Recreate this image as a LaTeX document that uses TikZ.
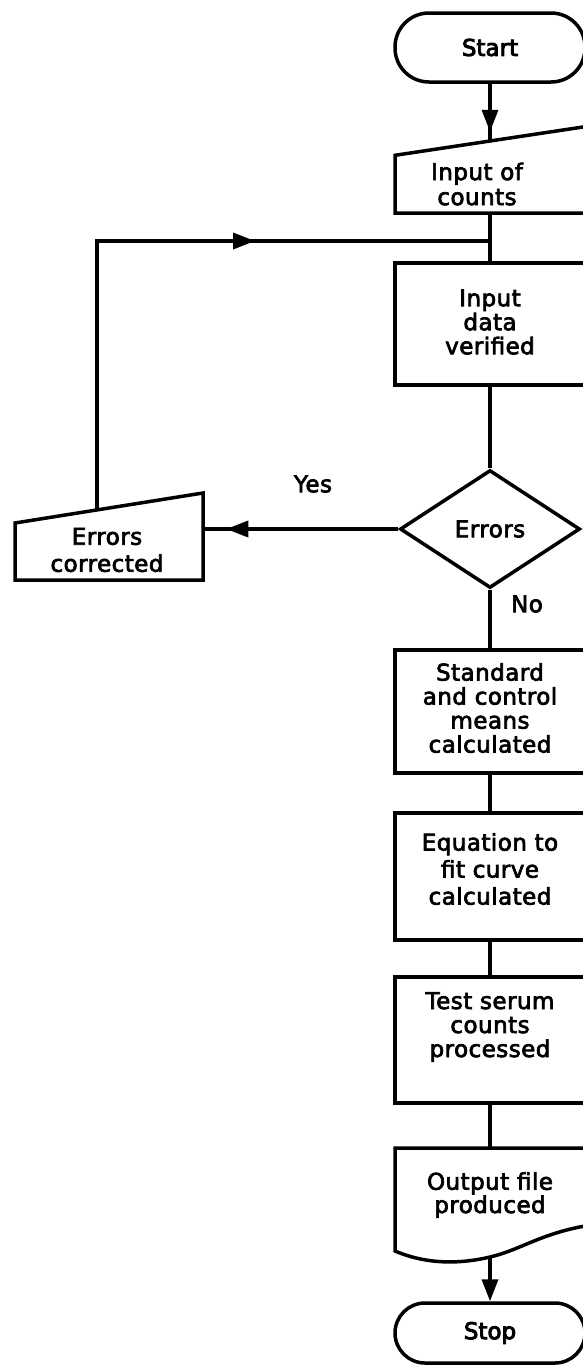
\documentclass[tikz,border=0pt]{standalone}
\usepackage{fontspec}
\setmainfont{DejaVu Sans}
\newfontfamily\lblfont{DejaVu Sans}[FakeBold=3,LetterSpace=2]
\newfontfamily\termfont{DejaVu Sans}[FakeBold=4]
\usetikzlibrary{shapes.geometric,arrows.meta,decorations.markings}
\begin{document}
\begin{tikzpicture}[x=1pt,y=-1pt,
  line width=3.5pt,
  tip/.style={-{Triangle[length=22pt,width=16pt]}},
  box/.style={draw,rectangle,minimum width=190pt,inner sep=0pt},
  term/.style={draw,rectangle,minimum width=190pt,inner sep=0pt,font=\termfont\fontsize{23}{24}\selectfont},
  txt/.style={align=center,font=\lblfont\fontsize{23}{24}\selectfont,inner sep=0pt},
  wide/.style={font=\lblfont\fontsize{23}{27}\selectfont},
  midarrow/.style={postaction={decorate},decoration={markings,mark=at position #1 with {\arrow{Triangle[length=22pt,width=16pt]}}}},
]
\useasboundingbox (0,0) rectangle (583,1366);
\clip (0,0) rectangle (583,1366);

% Start
\node[term,rounded corners=34pt,minimum height=69pt] (start) at (490,47.5) {Start};

% Input of counts (manual input)
\draw (395,155.3) -- (585,126.7) -- (585,213) -- (395,213) -- cycle;
\coordinate (inTop) at (490,141);
\coordinate (inBot) at (490,213);
\node[txt,font=\lblfont\fontsize{23}{25}\selectfont] (inp) at (477,184) {Input of\\counts};
\draw[midarrow=48pt] (start.south) -- (inTop);

% Input data verified
\node[box,minimum height=122pt] (ver) at (490,324) {};
\node[txt] (vert) at (490,322) {Input\\data\\verified};
\coordinate (j) at (490,241);
\draw (inBot) -- (ver.north);

% Decision
\node[draw,diamond,minimum width=180pt,minimum height=118pt,inner sep=0pt,font=\lblfont\fontsize{23}{24}\selectfont] (err) at (490,529) {Errors};
\draw (ver.south) -- (err.north);

% Errors corrected (manual input)
\draw (15,523) -- (203,493) -- (203,580) -- (15,580) -- cycle;
\coordinate (ecTop) at (97,510);
\coordinate (ecRight) at (203,529);
\node[txt,wide] (ect) at (107,550) {Errors\\corrected};
\draw[midarrow=172pt] (err.west) -- (ecRight);
\draw[midarrow=427pt] (ecTop) |- (j);
\node[txt] (yes) at (313,484) {Yes};
\node[txt] (no) at (527,604) {No};

% Process boxes
\node[box,minimum height=123pt] (std) at (490,711.5) {};
\node[txt] (stdt) at (490,708) {Standard\\and control\\means\\calculated};
\node[box,minimum height=127pt] (eq) at (490,876.5) {};
\node[txt,wide] (eqt) at (490,869) {Equation to\\fit curve\\calculated};
\node[box,minimum height=126pt] (test) at (490,1040) {};
\node[txt] (testt) at (490,1027) {Test serum\\counts\\processed};
\draw (err.south) -- (std.north);
\draw (std.south) -- (eq.north);
\draw (eq.south) -- (test.north);

% Output document
\draw (395,1148) -- (585,1148) -- (585,1226)
  .. controls (540,1234) and (520,1250) .. (490,1257)
  .. controls (465,1263) and (430,1266) .. (395,1251) -- cycle;
\coordinate (docTop) at (490,1148);
\coordinate (docBot) at (490,1257);
\node[txt,font=\lblfont\fontsize{23}{22}\selectfont] (doct) at (490,1195) {Output file\\produced};
\draw (test.south) -- (docTop);

% Stop
\node[term,rounded corners=30pt,minimum height=60pt] (stop) at (490,1333) {Stop};
\draw[tip] (docBot) -- (stop.north);
\end{tikzpicture}
\end{document}
